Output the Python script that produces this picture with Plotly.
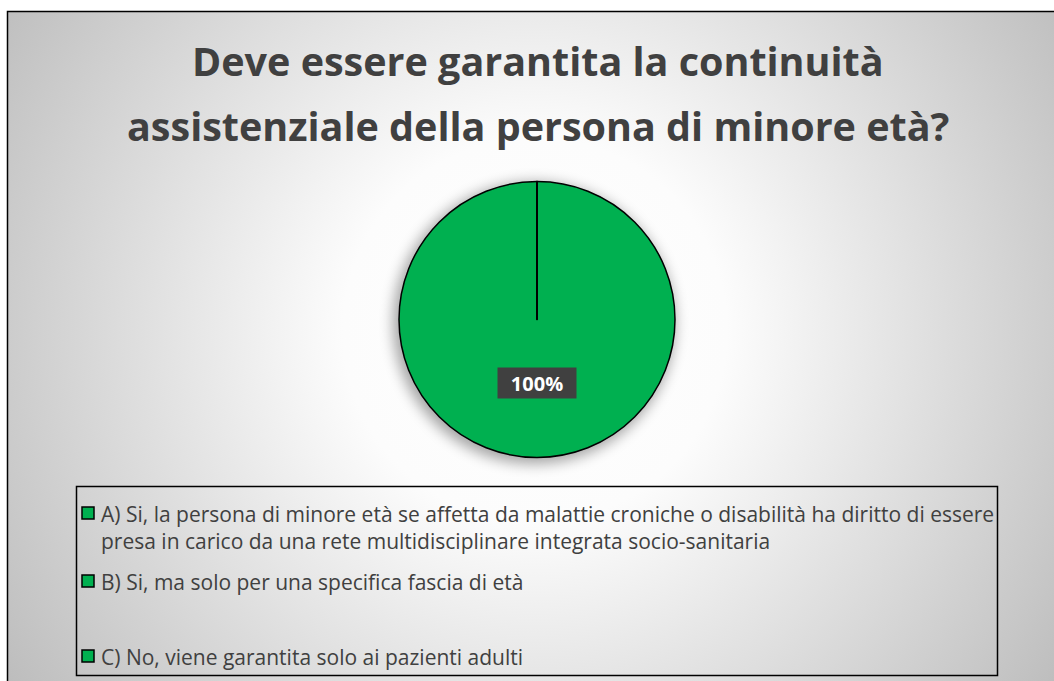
import base64
import plotly.graph_objects as go

# --- data ---------------------------------------------------------------
title_lines = ["Deve essere garantita la continuità",
               "assistenziale della persona di minore età?"]
answers = [
    "A) Si, la persona di minore età se affetta da malattie croniche o disabilità ha diritto di essere<br>presa in carico da una rete multidisciplinare integrata socio-sanitaria",
    "B) Si, ma solo per una specifica fascia di età",
    "C) No, viene garantita solo ai pazienti adulti",
]
shares = [100, 0, 0]
slice_colors = ["#00B050", "#00B050", "#00B050"]

W, H = 1054, 681
TEXT = "#404040"
FONT = "Open Sans"

# --- background: framed chart area with radial gradient and pie glow ----
svg = f"""<svg xmlns='http://www.w3.org/2000/svg' width='{W}' height='{H}' viewBox='0 0 {W} {H}'>
<defs>
 <radialGradient id='g' gradientUnits='userSpaceOnUse' cx='535' cy='330' r='640'>
  <stop offset='0' stop-color='#ffffff'/>
  <stop offset='0.3' stop-color='#fcfcfc'/>
  <stop offset='1' stop-color='#bcbcbc'/>
 </radialGradient>
 <filter id='b' x='-50%' y='-50%' width='200%' height='200%'>
  <feGaussianBlur stdDeviation='7'/>
 </filter>
</defs>
<rect x='0' y='0' width='{W}' height='{H}' fill='#ffffff'/>
<rect x='7.5' y='11.5' width='{W+20}' height='{H+20}' fill='url(#g)' stroke='#000' stroke-width='1.5'/>
<circle cx='534' cy='323' r='141' fill='#000' opacity='0.35' filter='url(#b)'/>
</svg>"""
bg_src = "data:image/svg+xml;base64," + base64.b64encode(svg.encode()).decode()

# pie geometry (pixels)
cx, cy, r = 537, 319.5, 138

fig = go.Figure()
fig.add_trace(go.Pie(
    labels=[a.split("<br>")[0][:2] for a in answers],
    values=shares,
    marker=dict(colors=slice_colors, line=dict(color="#000000", width=1.5)),
    sort=False, direction="clockwise", rotation=0,
    textinfo="none", hoverinfo="label+percent",
    showlegend=False,
    domain=dict(x=[(cx - r) / W, (cx + r) / W],
                y=[1 - (cy + r) / H, 1 - (cy - r) / H]),
))

shapes = [
    # boundary line of the single full slice (12 o'clock)
    dict(type="line", xref="paper", yref="paper",
         x0=cx / W, x1=cx / W, y0=1 - cy / H, y1=1 - (cy - r) / H,
         line=dict(color="#000000", width=1.5)),
    # legend frame
    dict(type="rect", xref="paper", yref="paper",
         x0=76.5 / W, x1=997.5 / W, y0=1 - 675.5 / H, y1=1 - 486.5 / H,
         line=dict(color="#000000", width=1.5), fillcolor="rgba(0,0,0,0)"),
]

annotations = []
for i, line in enumerate(title_lines):
    annotations.append(dict(
        text=f"<b>{line}</b>", xref="paper", yref="paper",
        x=538 / W, y=1 - (61 + 65 * i) / H, xanchor="center", yanchor="middle",
        showarrow=False, font=dict(family=FONT, size=39.5, color=TEXT)))

# percentage label of the dominant slice
total = sum(shares)
top = max(range(len(shares)), key=lambda k: shares[k])
annotations.append(dict(
    text=f"<b>{round(shares[top] / total * 100)}%</b>", xref="paper", yref="paper",
    x=cx / W, y=1 - 383 / H, xanchor="center", yanchor="middle", showarrow=False,
    font=dict(family=FONT, size=20, color="#ffffff"),
    bgcolor="#404040", borderpad=4, width=70, height=22))

# legend entries
item_y = [513, 581, 656]
for ans, col, yy in zip(answers, slice_colors, item_y):
    shapes.append(dict(type="rect", xref="paper", yref="paper",
                       x0=82 / W, x1=94 / W, y0=1 - (yy + 6) / H, y1=1 - (yy - 6) / H,
                       fillcolor=col, line=dict(color="#000000", width=1.5)))
    annotations.append(dict(
        text=ans, xref="paper", yref="paper", x=99 / W, y=1 - (yy - 15) / H,
        xanchor="left", yanchor="top", align="left", showarrow=False,
        font=dict(family=FONT, size=21, color=TEXT)))

fig.update_layout(
    width=W, height=H, margin=dict(l=0, r=0, t=0, b=0),
    paper_bgcolor="#ffffff", plot_bgcolor="#ffffff",
    images=[dict(source=bg_src, xref="paper", yref="paper", x=0, y=1,
                 sizex=1, sizey=1, sizing="stretch", layer="below",
                 xanchor="left", yanchor="top")],
    shapes=shapes, annotations=annotations,
)

fig.write_html("out.html")
